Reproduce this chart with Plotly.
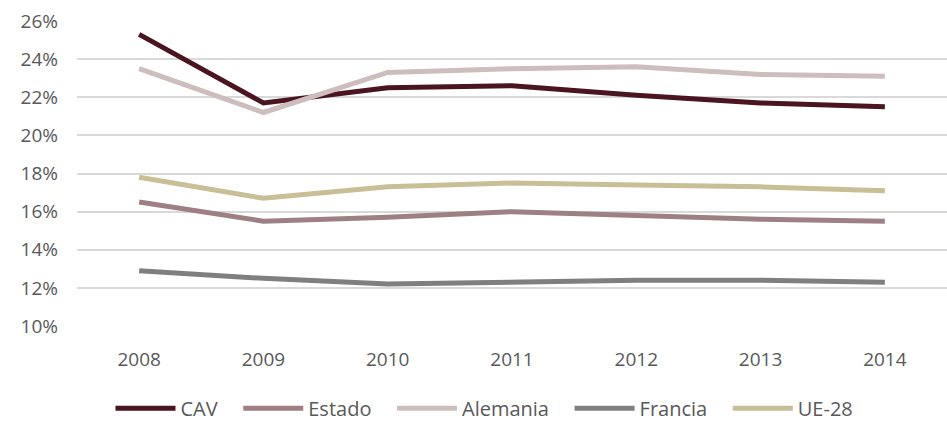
import plotly.graph_objects as go

years = ["2008", "2009", "2010", "2011", "2012", "2013", "2014"]
cav = [25.3, 21.7, 22.5, 22.6, 22.1, 21.7, 21.5]
estado = [16.5, 15.5, 15.7, 16.0, 15.8, 15.6, 15.5]
alemania = [23.5, 21.2, 23.3, 23.5, 23.6, 23.2, 23.1]
francia = [12.9, 12.5, 12.2, 12.3, 12.4, 12.4, 12.3]
ue28 = [17.8, 16.7, 17.3, 17.5, 17.4, 17.3, 17.1]
y_ticks = [10, 12, 14, 16, 18, 20, 22, 24, 26]

series = [
    ("CAV", cav, "#4a1520"),
    ("Estado", estado, "#9e8084"),
    ("Alemania", alemania, "#cdbdbd"),
    ("Francia", francia, "#7f7f7f"),
    ("UE-28", ue28, "#c8bf97"),
]

# non-breaking spaces widen the gap between legend entries
legend_pad = "\u00a0" * 3

fig = go.Figure()
for name, vals, color in series:
    fig.add_trace(go.Scatter(
        x=years, y=[v / 100 for v in vals], name=name + legend_pad, mode="lines",
        line=dict(color=color, width=5),
    ))

font_family = "Open Sans, Liberation Sans, sans-serif"
text_color = "#595959"
fig.update_layout(
    width=947, height=428,
    margin=dict(l=77, r=0, t=21, b=97),
    plot_bgcolor="white", paper_bgcolor="white",
    font=dict(family=font_family, size=19, color=text_color),
    showlegend=True,
    legend=dict(orientation="h", x=0.477, xanchor="center", y=-0.27, yanchor="middle",
                font=dict(size=20, color=text_color), itemwidth=60,
                tracegroupgap=0),
    xaxis=dict(type="category", range=[-0.5, 6.5], showgrid=False, showline=False,
               zeroline=False, ticks="", ticklabelstandoff=20,
               tickfont=dict(size=19, color=text_color)),
    yaxis=dict(range=[0.10, 0.26], tickvals=[t / 100 for t in y_ticks],
               ticktext=[f"{t}%" for t in y_ticks],
               showgrid=True, gridcolor="#d9d9d9", gridwidth=1.5,
               zeroline=False, showline=False, ticks="", ticklabelstandoff=18,
               tickfont=dict(size=19, color=text_color)),
)

fig.write_html("out.html")
